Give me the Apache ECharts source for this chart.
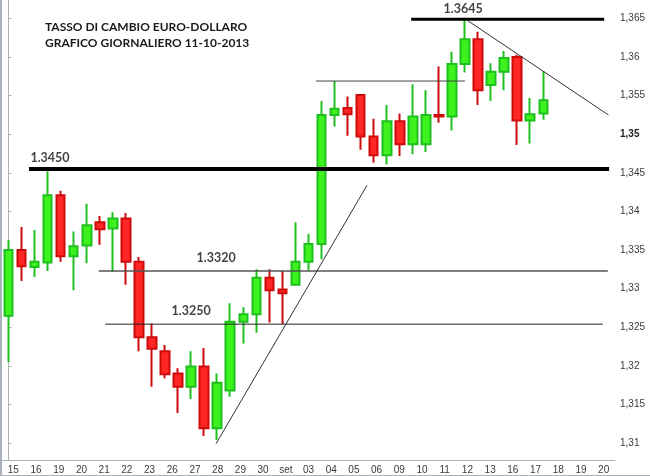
<!DOCTYPE html>
<html><head><meta charset="utf-8">
<script src="https://cdn.jsdelivr.net/npm/echarts@6/dist/echarts.min.js"></script>
<style>html,body{margin:0;padding:0;background:#fff;}#c{width:650px;height:476px;}</style>
</head><body><div id="c"></div>
<script>
// x-axis tick labels (as printed on the reference)
const xLabels = ['15','16','19','20','21','22','23','26','27','28','29','30','set','03','04','05','06','09','10','11','12','13','16','17','18','19','20'];
// daily candles 15/08/2013 .. 11/10/2013
const candleDates = ['15/08','16/08','19/08','20/08','21/08','22/08','23/08','26/08','27/08','28/08','29/08','30/08',
  '02/09','03/09','04/09','05/09','06/09','09/09','10/09','11/09','12/09','13/09','16/09','17/09','18/09','19/09','20/09',
  '23/09','24/09','25/09','26/09','27/09','30/09','01/10','02/10','03/10','04/10','07/10','08/10','09/10','10/10','11/10'];
const opens  = [1.3265,1.3350,1.3328,1.3334,1.3421,1.3342,1.3356,1.3386,1.3378,1.3391,1.3335,1.3237,1.3219,1.3190,1.3173,1.3199,1.3119,1.3168,1.3257,1.3267,1.3314,1.3299,1.3305,1.3335,1.3358,1.3525,1.3534,1.3551,1.3497,1.3473,1.3517,1.3487,1.3487,1.3525,1.3523,1.3591,1.3623,1.3564,1.3581,1.3600,1.3518,1.3527];
const closes = [1.3350,1.3329,1.3335,1.3421,1.3342,1.3355,1.3382,1.3377,1.3391,1.3335,1.3237,1.3222,1.3189,1.3173,1.3199,1.3119,1.3178,1.3257,1.3267,1.3314,1.3298,1.3294,1.3335,1.3358,1.3525,1.3533,1.3526,1.3497,1.3473,1.3517,1.3487,1.3523,1.3525,1.3523,1.3591,1.3623,1.3557,1.3581,1.3599,1.3518,1.3526,1.3544];
const lows   = [1.3205,1.3310,1.3315,1.3323,1.3335,1.3298,1.3333,1.3357,1.3322,1.3305,1.3219,1.3173,1.3184,1.3139,1.3157,1.3109,1.3104,1.3160,1.3229,1.3243,1.3256,1.3254,1.3304,1.3324,1.3338,1.3510,1.3498,1.3480,1.3463,1.3461,1.3472,1.3474,1.3477,1.3515,1.3505,1.3580,1.3538,1.3543,1.3557,1.3486,1.3488,1.3519];
const highs  = [1.3363,1.3380,1.3376,1.3452,1.3427,1.3374,1.3410,1.3394,1.3399,1.3398,1.3341,1.3255,1.3227,1.3197,1.3219,1.3223,1.3190,1.3281,1.3276,1.3325,1.3325,1.3323,1.3386,1.3371,1.3543,1.3569,1.3549,1.3552,1.3520,1.3538,1.3527,1.3565,1.3557,1.3588,1.3607,1.3648,1.3633,1.3592,1.3608,1.3603,1.3547,1.3582];
// y axis
const yTicks = [1.31,1.315,1.32,1.325,1.33,1.335,1.34,1.345,1.35,1.355,1.36,1.365];
const yTickLabels = ['1,31','1,315','1,32','1,325','1,33','1,335','1,34','1,345','1,35','1,355','1,36','1,365'];
const yMin = 1.3078, yMax = 1.3674;
const slotCount = 47;
// drawn levels: [startIndex, endIndex, value]
const supportLevels = [
  {from: 1.57, to: 46.05, value: 1.3455},   // 1.3450 thick
  {from: 30.87, to: 45.67, value: 1.3649},  // 1.3645 thick
  {from: 23.58, to: 35.0, value: 1.3569},   // thin
  {from: 6.92, to: 45.95, value: 1.3323},   // 1.3320
  {from: 7.42, to: 45.57, value: 1.3254}    // 1.3250
];
// trend lines: [[idx, value],[idx, value]]
const trendUp = [[15.91, 1.3099], [27.49, 1.3434]];
const trendDown = [[35.14, 1.3648], [46.0, 1.3525]];
// annotation texts: [idx, value, text]
const levelTexts = [[3.18, 1.3469, '1.3450'], [34.85, 1.3663, '1.3645'], [15.91, 1.3340, '1.3320'], [14.0, 1.3271, '1.3250']];
const titleLines = ['TASSO DI CAMBIO EURO-DOLLARO', 'GRAFICO GIORNALIERO 11-10-2013'];

const candleData = candleDates.map((d, i) => [i, opens[i], closes[i], lows[i], highs[i]]);
const lineStyles = [
  {color: '#000', width: 4},
  {color: '#000', width: 3},
  {color: '#444', width: 1},
  {color: '#555', width: 1.5},
  {color: '#222', width: 1}
];
const series = [{
  type: 'candlestick', xAxisIndex: 1, yAxisIndex: 0,
  dimensions: ['idx', 'open', 'close', 'lowest', 'highest'],
  encode: {x: 0, y: [1, 2, 3, 4]},
  data: candleData, barWidth: 9, silent: true,
  itemStyle: {color: '#3df21d', color0: '#ff2626', borderColor: '#1fbf1f', borderColor0: '#cf0a0a', borderWidth: 2},
  z: 2
}];
supportLevels.forEach((l, k) => series.push({
  type: 'line', xAxisIndex: 1, symbol: 'none', silent: true, z: 3,
  data: [[l.from, l.value], [l.to, l.value]], lineStyle: lineStyles[k]
}));
[trendUp, trendDown].forEach(t => series.push({
  type: 'line', xAxisIndex: 1, symbol: 'none', silent: true, z: 3,
  data: t, lineStyle: {color: '#333', width: 1}
}));
series.push({
  type: 'scatter', xAxisIndex: 1, symbolSize: 1, silent: true, z: 4,
  itemStyle: {color: 'transparent'},
  data: levelTexts.map(t => [t[0], t[1], t[2]]),
  label: {show: true, position: 'inside', formatter: p => p.data[2],
    fontFamily: 'Lato', fontWeight: 'bold', fontSize: 12.5, color: '#111'}
});

const chart = echarts.init(document.getElementById('c'), null, {renderer: 'canvas'});
chart.setOption({
  animation: false,
  backgroundColor: '#fff',
  title: {text: titleLines.join('\n'), left: 40, top: 14,
    textStyle: {fontFamily: 'Lato', fontWeight: 'bold', fontSize: 12, lineHeight: 16, color: '#1a1a1a'}},
  grid: {left: 2, right: 35, top: 0, bottom: 16, containLabel: false},
  xAxis: [{
    type: 'category', data: xLabels, boundaryGap: true, position: 'bottom',
    axisLine: {lineStyle: {color: '#a9b2bb', width: 1}},
    axisTick: {alignWithLabel: true, length: 4, lineStyle: {color: '#a9b2bb'}},
    axisLabel: {interval: 0, margin: 5, fontFamily: 'Liberation Sans', fontSize: 10, color: '#3a3a3a'},
    splitLine: {show: false}
  }, {
    type: 'value', min: -0.5, max: slotCount - 0.5, show: false
  }],
  yAxis: [{
    type: 'value', position: 'right', min: yMin, max: yMax, scale: true,
    axisLine: {show: true, lineStyle: {color: '#a9b2bb', width: 1}},
    axisTick: {show: true, length: 3, customValues: yTicks, lineStyle: {color: '#a9b2bb'}},
    axisLabel: {customValues: yTicks, margin: 5, fontFamily: 'Liberation Sans', fontSize: 10, color: '#3a3a3a',
      formatter: v => {
        let k = yTicks.findIndex(t => Math.abs(t - v) < 1e-6);
        const s = k >= 0 ? yTickLabels[k] : String(v).replace('.', ',');
        return s === '1,35' ? '{b|' + s + '}' : s;
      },
      rich: {b: {fontWeight: 'bold', fontFamily: 'Liberation Sans', fontSize: 10, color: '#222'}}},
    splitLine: {show: false}
  }],
  graphic: [
    {type: 'rect', shape: {x: 0, y: 0, width: 2, height: 476}, style: {fill: '#a9b2bb'}, silent: true},
    {type: 'rect', shape: {x: 0, y: 475, width: 650, height: 1}, style: {fill: '#a9b2bb'}, silent: true}
  ],
  series: series
});
</script></body></html>
